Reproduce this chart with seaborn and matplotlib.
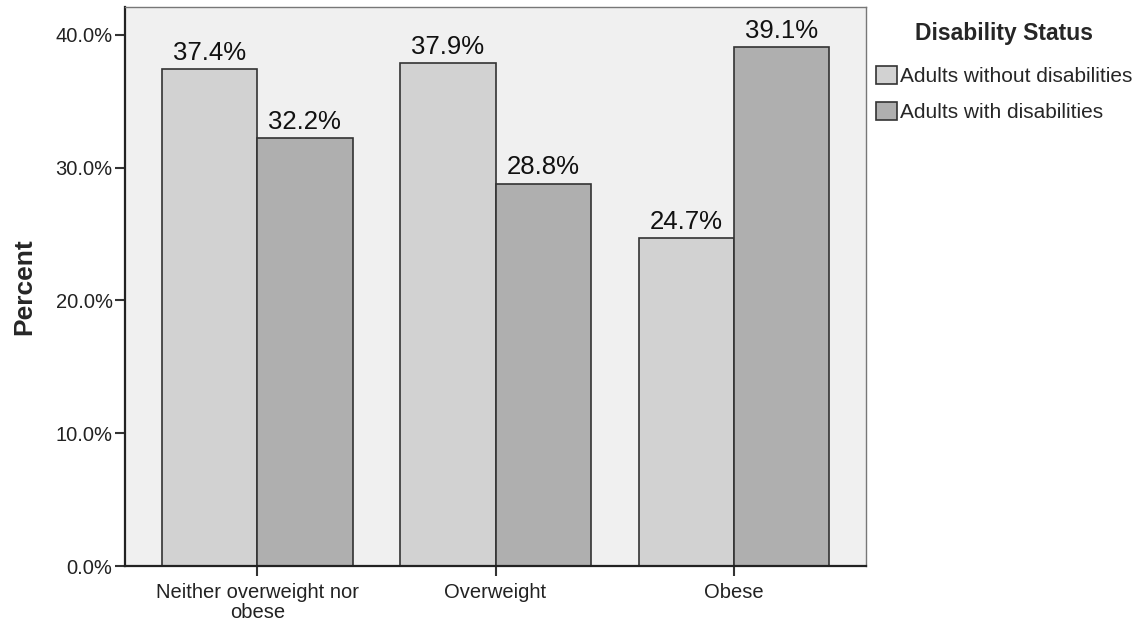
import numpy as np
import pandas as pd
import matplotlib.pyplot as plt
import seaborn as sns
from matplotlib.ticker import PercentFormatter

# values
categories = ["Neither overweight nor\nobese", "Overweight", "Obese"]
groups = ["Adults without disabilities", "Adults with disabilities"]
without_dis = [37.4, 37.9, 24.7]
with_dis = [32.2, 28.8, 39.1]

df = pd.DataFrame({
    "category": categories * 2,
    "status": [groups[0]] * 3 + [groups[1]] * 3,
    "percent": without_dis + with_dis,
})

sns.set_theme(style="white")
plt.rcParams["font.family"] = ["Liberation Sans", "DejaVu Sans"]

fig = plt.figure(figsize=(11.43, 6.25), dpi=100)
ax = fig.add_axes([0.1094, 0.0944, 0.6483, 0.8944])
ax.set_facecolor("#f0f0f0")

sns.barplot(
    data=df, x="category", y="percent", hue="status",
    hue_order=groups, order=categories,
    palette=["#d2d2d2", "#afafaf"], saturation=1,
    edgecolor="#333333", linewidth=1.2, width=0.8, ax=ax,
)

for cont in ax.containers:
    ax.bar_label(cont, fmt="%.1f%%", fontsize=18.5, padding=3, color="#111111")

ax.set_ylim(0, 42.1)
ax.set_xlim(-0.555, 2.555)
ax.set_yticks([0, 10, 20, 30, 40])
ax.yaxis.set_major_formatter(PercentFormatter(decimals=1))
ax.tick_params(axis="both", labelsize=14.5, labelcolor="#222222",
               length=7, width=1.5, color="#333333", direction="out",
               left=True, bottom=True, pad=2)
ax.tick_params(axis="x", pad=5)
for lbl in ax.get_xticklabels():
    lbl.set_linespacing(1.1)

ax.set_xlabel("")
ax.set_ylabel("Percent", fontsize=19, fontweight="bold")
ax.yaxis.set_label_coords(-0.12, 0.5)

for side in ["left", "bottom"]:
    ax.spines[side].set_color("#222222")
    ax.spines[side].set_linewidth(1.6)
for side in ["top", "right"]:
    ax.spines[side].set_color("#777777")
    ax.spines[side].set_linewidth(1.0)

handles, labels = ax.get_legend_handles_labels()
leg = ax.legend(handles, labels, title="Disability Status",
                loc="upper left", bbox_to_anchor=(0.759, 0.978),
                bbox_transform=fig.transFigure, frameon=False,
                fontsize=15, title_fontproperties={"size": 16.5, "weight": "bold"},
                handlelength=1.0, handleheight=0.95, handletextpad=0.15,
                labelspacing=0.75, borderaxespad=0)
leg._legend_box.sep = 15

fig.savefig("out.png", dpi=100)
